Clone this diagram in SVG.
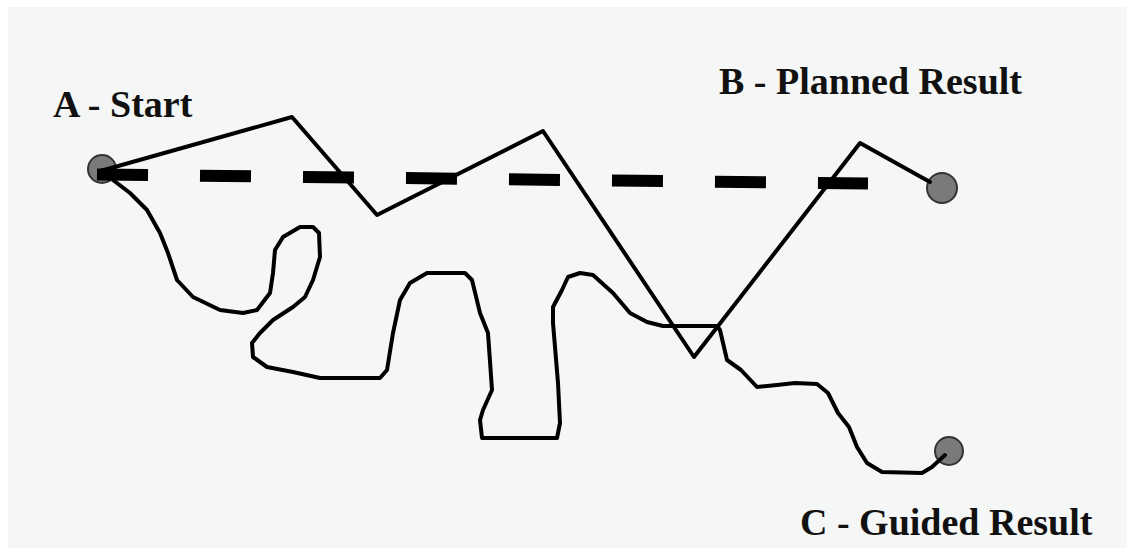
<svg xmlns="http://www.w3.org/2000/svg" width="1127" height="548" viewBox="0 0 1127 548">
<style>
.lbl{font-family:"Liberation Serif","Times New Roman",serif;font-weight:bold;font-size:38px;fill:#111}
.pt{fill:#7a7a7a;stroke:#333;stroke-width:2}
.path{fill:none;stroke:#000;stroke-width:4;stroke-linejoin:round;stroke-linecap:round}
.plan{fill:none;stroke:#000;stroke-width:12;stroke-dasharray:51 52}
</style>
<rect x="0" y="0" width="1127" height="548" fill="#ffffff"/>
<rect x="8" y="7" width="1119" height="541" fill="#f5f6f6"/>
<g id="node-a">
<circle class="pt" cx="102" cy="169" r="14"/>
<text class="lbl" x="53" y="117">A - Start</text>
</g>
<g id="node-b">
<circle class="pt" cx="942" cy="188" r="15"/>
<text class="lbl" x="719" y="94">B - Planned Result</text>
</g>
<g id="node-c">
<circle class="pt" cx="949" cy="451" r="14"/>
<text class="lbl" x="800" y="535">C - Guided Result</text>
</g>
<g id="connectors">
<line class="plan" x1="97" y1="174.5" x2="868" y2="183.5"/>
<polyline class="path" points="104,170 292,117 377,215 543,131 694,357 860,143 930,182"/>
<polyline class="path" points="102,170 113,180 130,193 147,210 160,233 168,253 177,280 193,297 220,310 243,313 257,310 270,293 273,273 275,250 283,237 300,227 313,227 319,233 320,257 313,280 305,297 293,307 273,320 260,333 252,343 253,357 267,367 293,372 320,378 380,378 387,370 393,333 400,300 410,283 427,273 465,273 472,280 480,313 488,333 492,390 483,410 480,420 482,438 557,438 560,423 558,383 553,323 553,307 562,290 568,277 580,273 593,275 613,293 630,313 647,322 663,326 717,326 720,330 727,360 741,370 757,387 777,385 795,383 817,384 828,393 838,413 849,427 857,447 867,463 882,472 922,473 932,467 945,455"/>
</g>
</svg>
